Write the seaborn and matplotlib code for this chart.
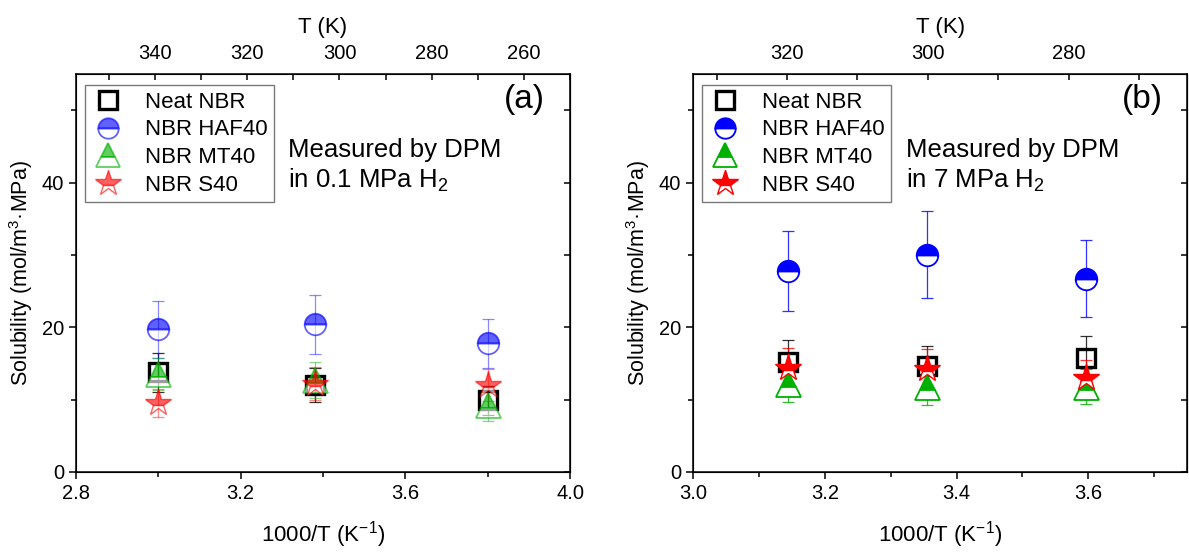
import numpy as np
import pandas as pd
import seaborn as sns
import matplotlib.pyplot as plt
from matplotlib.ticker import MultipleLocator

# ---- data ----
series = ['Neat NBR', 'NBR HAF40', 'NBR MT40', 'NBR S40']

# (a) 0.1 MPa H2
x_a = [3.0, 3.38, 3.8]
neat_a = [13.8, 12.0, 9.9]
neat_a_err = [2.7, 2.3, 2.0]
haf_a = [19.7, 20.4, 17.8]
haf_a_err = [3.9, 4.1, 3.4]
mt_a = [13.5, 12.7, 9.3]
mt_a_err = [2.2, 2.5, 2.2]
s_a = [9.5, 12.2, 12.0]
s_a_err = [1.9, 2.3, 2.2]

# (b) 7 MPa H2
x_b = [3.144, 3.355, 3.597]
neat_b = [15.2, 14.6, 15.7]
neat_b_err = [3.0, 2.8, 3.1]
haf_b = [27.8, 30.0, 26.7]
haf_b_err = [5.5, 6.0, 5.3]
mt_b = [12.2, 11.8, 11.8]
mt_b_err = [2.6, 2.6, 2.4]
s_b = [14.3, 14.2, 13.0]
s_b_err = [2.8, 2.8, 2.5]

sns.set_style('ticks')
plt.rcParams['font.family'] = ['Liberation Sans', 'DejaVu Sans']
plt.rcParams['mathtext.fontset'] = 'custom'
plt.rcParams['mathtext.rm'] = 'Liberation Sans'
plt.rcParams['mathtext.it'] = 'Liberation Sans:italic'
plt.rcParams['mathtext.default'] = 'regular'
for k in ['text.color', 'axes.labelcolor', 'xtick.color', 'ytick.color',
          'axes.edgecolor']:
    plt.rcParams[k] = 'black'

styles = {
    'Neat NBR': dict(marker='s', color='black', ms=13, mew=2.4, fs='none', solid=True),
    'NBR HAF40': dict(marker='o', color='#0000ff', ms=15.5, mew=1.3, fs='top', solid=False),
    'NBR MT40': dict(marker='^', color='#00b000', ms=18, mew=1.3, fs='top', solid=False),
    'NBR S40': dict(marker='*', color='#ff0000', ms=20, mew=1.0, fs='top', solid=False),
}


def panel(ax, x, ys, errs, alpha, xlim, xmaj, xmin, tlim, tmaj, tmin, label, note):
    for name, y, e in zip(series, ys, errs):
        st = styles[name]
        a = 1.0 if st['solid'] else alpha
        ax.errorbar(x, y, yerr=e, fmt='none', ecolor=st['color'],
                    elinewidth=0.9, capsize=4, capthick=0.9,
                    alpha=a * 0.75 if a < 1 else 0.8, zorder=2)
        df = pd.DataFrame({'x': x, 'y': y})
        sns.lineplot(data=df, x='x', y='y', ax=ax, color=st['color'],
                     marker=st['marker'], markersize=st['ms'],
                     markeredgewidth=st['mew'], markeredgecolor=st['color'],
                     markerfacecolor=st['color'], markerfacecoloralt='white',
                     fillstyle=st['fs'], linestyle='none', alpha=a,
                     label=name, errorbar=None, zorder=3)

    ax.set_xlim(*xlim)
    ax.set_ylim(0, 55)
    ax.xaxis.set_major_locator(MultipleLocator(xmaj))
    ax.xaxis.set_minor_locator(MultipleLocator(xmin))
    ax.yaxis.set_major_locator(MultipleLocator(20))
    ax.yaxis.set_minor_locator(MultipleLocator(10))
    ax.tick_params(which='both', direction='out', labelsize=14.5, width=1.1)
    ax.tick_params(which='major', length=5)
    ax.tick_params(which='minor', length=3.5)
    for sp in ax.spines.values():
        sp.set_linewidth(1.1)
    ax.set_xlabel('1000/T (K$^{-1}$)', fontsize=16, labelpad=12)
    ax.set_ylabel('Solubility (mol/m$^3$·MPa)', fontsize=15.5, labelpad=5)

    # top temperature axis
    axt = ax.twiny()
    axt.set_xlim(*tlim)
    axt.xaxis.set_major_locator(MultipleLocator(tmaj))
    axt.xaxis.set_minor_locator(MultipleLocator(tmin))
    axt.tick_params(which='both', direction='in', length=4.5, width=1.1,
                    labelsize=14.5, pad=8)
    axt.set_xlabel('T (K)', fontsize=16, labelpad=8)

    # right ticks
    sec = ax.secondary_yaxis('right')
    sec.yaxis.set_major_locator(MultipleLocator(10))
    sec.tick_params(direction='in', length=4.5, width=1.1, labelright=False)

    leg = ax.legend(loc='upper left', bbox_to_anchor=(0.018, 0.972),
                    borderaxespad=0, frameon=True, fancybox=False,
                    edgecolor='0.35', fontsize=16, handlelength=1.5,
                    handletextpad=0.9, labelspacing=0.3, borderpad=0.3,
                    markerscale=0.95)
    leg.get_frame().set_linewidth(1.0)

    ax.text(0.95, 0.975, label, transform=ax.transAxes, ha='right',
            va='top', fontsize=24)
    ax.text(0.43, 0.84, note, transform=ax.transAxes, ha='left',
            va='top', fontsize=18.5, linespacing=1.25)


fig = plt.figure(figsize=(11.89, 5.52), dpi=100)
ax_a = fig.add_axes([0.0639, 0.145, 0.4155, 0.721])
ax_b = fig.add_axes([0.5829, 0.145, 0.4155, 0.721])

panel(ax_a, x_a, [neat_a, haf_a, mt_a, s_a],
      [neat_a_err, haf_a_err, mt_a_err, s_a_err], 0.62,
      (2.8, 4.0), 0.4, 0.2, (1000 / 2.8, 1000 / 4.0), 20, 10,
      '(a)', 'Measured by DPM\nin 0.1 MPa H$_2$')
panel(ax_b, x_b, [neat_b, haf_b, mt_b, s_b],
      [neat_b_err, haf_b_err, mt_b_err, s_b_err], 1.0,
      (3.0, 3.75), 0.2, 0.1, (1000 / 3.0, 1000 / 3.8), 20, 10,
      '(b)', 'Measured by DPM\nin 7 MPa H$_2$')

fig.savefig('out.png', dpi=100)
